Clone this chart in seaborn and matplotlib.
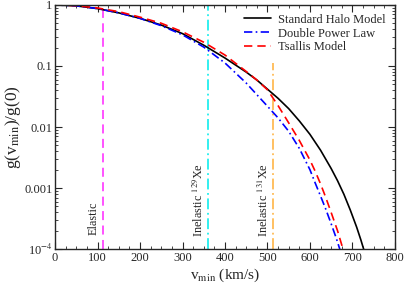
import matplotlib
matplotlib.use('Agg')
import matplotlib.pyplot as plt
import matplotlib.ticker as mticker
import seaborn as sns
import pandas as pd

# values (g(vmin)/g(0))
v_shm = [0, 50, 100, 150, 200, 250, 300, 350, 400, 450, 475, 500, 525, 550, 575, 600,
         625, 650, 665, 680, 695, 710, 720, 730]
g_shm = [1, 0.966, 0.871, 0.741, 0.603, 0.468, 0.339, 0.219, 0.135, 0.0794, 0.0589, 0.0417,
         0.0295, 0.0200, 0.0126, 0.00759, 0.00417, 0.00209, 0.00132, 7.9e-4, 4.37e-4,
         2.29e-4, 1.41e-4, 8.3e-5]

v_dpl = [0, 50, 100, 150, 200, 250, 300, 350, 400, 450, 500, 525, 550, 575, 600, 612,
         625, 637, 650, 662, 675]
g_dpl = [1, 0.966, 0.871, 0.741, 0.603, 0.457, 0.324, 0.204, 0.112, 0.0525, 0.0219,
         0.0141, 0.00851, 0.00447, 0.00200, 0.00123, 7.4e-4, 4.57e-4, 2.6e-4, 1.51e-4, 7.9e-5]

v_tsa = [0, 50, 100, 150, 200, 250, 300, 350, 400, 450, 475, 500, 525, 550, 575, 600,
         612, 625, 637, 650, 665, 680]
g_tsa = [1, 0.973, 0.891, 0.776, 0.631, 0.501, 0.363, 0.245, 0.151, 0.0813, 0.0589, 0.0407,
         0.0224, 0.0117, 0.00603, 0.00288, 0.00191, 0.00117, 7.1e-4, 3.98e-4, 2.0e-4, 8.9e-5]

thr_v = [113, 359, 512]
thr_top = [1, 1, 0.11]
thr_col = ['#ff44ff', '#22eeee', '#ffbb55']
thr_lab = ['Elastic', 'Inelastic $^{129}$Xe', 'Inelastic $^{131}$Xe']
thr_lab_x = [91, 338, 491]
thr_lab_y = [1.7e-4, 1.6e-4, 1.6e-4]

sns.set_style('ticks')
plt.rcParams['font.family'] = ['Liberation Serif', 'DejaVu Serif']
plt.rcParams['mathtext.fontset'] = 'stix'

fig = plt.figure(figsize=(4.05, 2.9), dpi=100)
ax = fig.add_axes([0.136, 0.141, 0.839, 0.842])

ax.vlines(thr_v[0], 1e-4, thr_top[0], colors=thr_col[0], linestyles=(0, (5, 3)), lw=1.3)
ax.vlines(thr_v[1], 1e-4, thr_top[1], colors=thr_col[1], linestyles=(0, (6, 2, 1, 2)), lw=1.3)
ax.vlines(thr_v[2], 1e-4, thr_top[2], colors=thr_col[2], linestyles=(0, (6, 2, 1, 2)), lw=1.3)

sns.lineplot(x=v_shm, y=g_shm, ax=ax, color='black', lw=1.2, label='Standard Halo Model')
sns.lineplot(x=v_dpl, y=g_dpl, ax=ax, color='blue', lw=1.2, label='Double Power Law')
sns.lineplot(x=v_tsa, y=g_tsa, ax=ax, color='red', lw=1.2, label='Tsallis Model')
ax.lines[-2].set_dashes((5, 2, 1, 2))
ax.lines[-1].set_dashes((5, 3))

for x, y, lab in zip(thr_lab_x, thr_lab_y, thr_lab):
    ax.text(x, y, lab, rotation=90, ha='center', va='bottom', fontsize=8.8)

ax.set_yscale('log')
ax.set_xlim(0, 800)
ax.set_ylim(1e-4, 1)
ax.xaxis.set_major_locator(mticker.MultipleLocator(100))
ax.xaxis.set_minor_locator(mticker.MultipleLocator(25))
ax.set_yticks([1e-4, 1e-3, 1e-2, 0.1, 1])
ax.set_yticklabels(['10$^{-4}$', '0.001', '0.01', '0.1', '1'])
ax.yaxis.set_minor_locator(mticker.LogLocator(base=10, subs=range(2, 10)))
ax.yaxis.set_minor_formatter(mticker.NullFormatter())
ax.tick_params(which='both', direction='in', top=True, right=True, labelsize=9, pad=2)
ax.tick_params(which='major', length=5)
ax.tick_params(which='minor', length=2.5)
for s in ax.spines.values():
    s.set_linewidth(1.0)

ax.set_xlabel('v$_{\\rm min}$ (km/s)', fontsize=11, labelpad=2)
ax.set_ylabel('g(v$_{\\rm min}$)/g(0)', fontsize=12.5, labelpad=1)

ax.legend(loc='upper right', frameon=False, fontsize=9, handlelength=2.2,
          borderaxespad=0.3, labelspacing=0.15, handletextpad=0.6)

fig.savefig('out.png', dpi=100)
